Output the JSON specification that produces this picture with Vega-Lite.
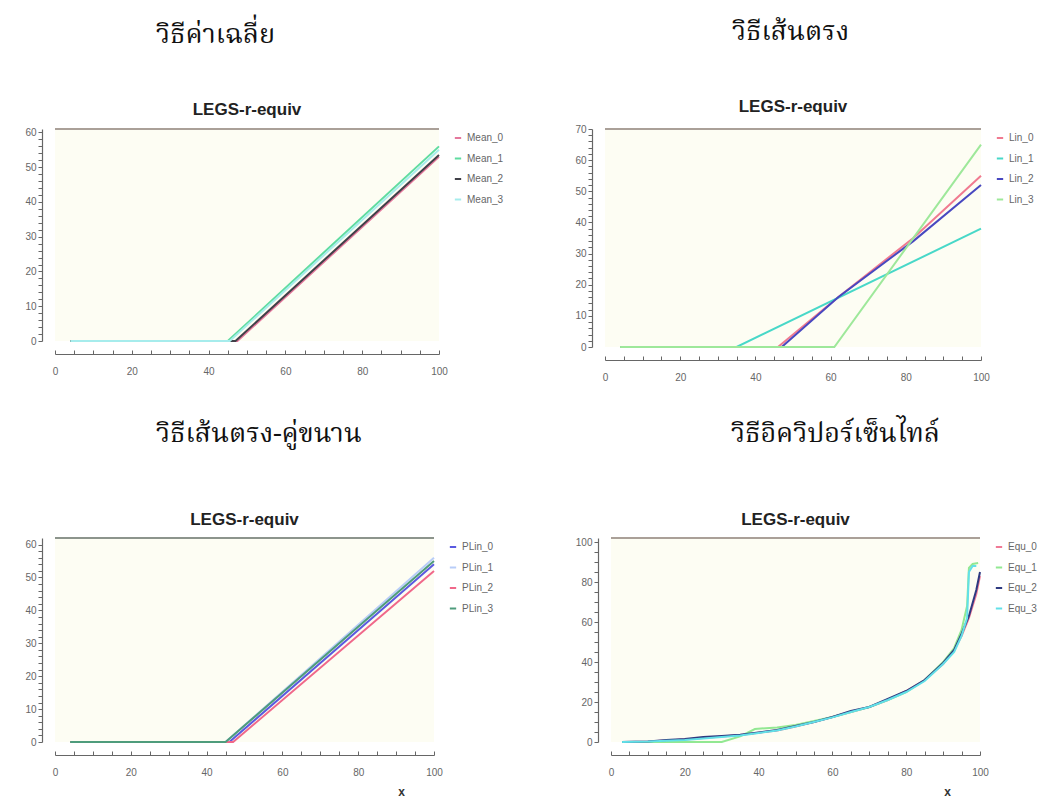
{
  "$schema": "https://vega.github.io/schema/vega-lite/v6.json",
  "background": "white",
  "padding": {"left": 24, "top": 18, "right": 5, "bottom": 0},
  "config": {
    "view": {"stroke": null, "fill": "#fdfdf3"},
    "axis": {"labelFont": "Liberation Sans Narrow, Liberation Sans, sans-serif", "labelFontSize": 10, "labelColor": "#666", "domainColor": "#666", "tickColor": "#666", "grid": false, "labelOverlap": false, "labelFlush": false, "offset": 13, "domainWidth": 1.2, "tickSize": 4},
    "legend": {"orient": "right", "offset": 6, "symbolType": "stroke", "symbolSize": 40, "symbolStrokeWidth": 2, "labelFont": "Liberation Sans Narrow, Liberation Sans, sans-serif", "labelFontSize": 10, "labelColor": "#666", "rowPadding": 10.5, "padding": 4, "title": null},
    "title": {"font": "Liberation Sans, Arial, sans-serif", "fontSize": 17, "fontWeight": "bold", "color": "#222"},
    "line": {"strokeWidth": 2}
  },
  "resolve": {"scale": {"color": "independent"}, "legend": {"color": "independent"}},
  "datasets": {
    "mean": [
      {"x": 4, "y": 0, "s": "Mean_0"}, {"x": 47.5, "y": 0, "s": "Mean_0"}, {"x": 100, "y": 53, "s": "Mean_0"},
      {"x": 4, "y": 0, "s": "Mean_1"}, {"x": 45, "y": 0, "s": "Mean_1"}, {"x": 100, "y": 56, "s": "Mean_1"},
      {"x": 4, "y": 0, "s": "Mean_2"}, {"x": 47, "y": 0, "s": "Mean_2"}, {"x": 100, "y": 53.5, "s": "Mean_2"},
      {"x": 4, "y": 0, "s": "Mean_3"}, {"x": 45.5, "y": 0, "s": "Mean_3"}, {"x": 100, "y": 55, "s": "Mean_3"}
    ],
    "lin": [
      {"x": 4, "y": 0, "s": "Lin_0"}, {"x": 46, "y": 0, "s": "Lin_0"}, {"x": 62, "y": 16, "s": "Lin_0"}, {"x": 82, "y": 35, "s": "Lin_0"}, {"x": 100, "y": 55, "s": "Lin_0"},
      {"x": 4, "y": 0, "s": "Lin_1"}, {"x": 35, "y": 0, "s": "Lin_1"}, {"x": 100, "y": 38, "s": "Lin_1"},
      {"x": 4, "y": 0, "s": "Lin_2"}, {"x": 47, "y": 0, "s": "Lin_2"}, {"x": 62, "y": 16, "s": "Lin_2"}, {"x": 82, "y": 34, "s": "Lin_2"}, {"x": 100, "y": 52, "s": "Lin_2"},
      {"x": 4, "y": 0, "s": "Lin_3"}, {"x": 61, "y": 0, "s": "Lin_3"}, {"x": 100, "y": 65, "s": "Lin_3"}
    ],
    "plin": [
      {"x": 4, "y": 0, "s": "PLin_0"}, {"x": 46, "y": 0, "s": "PLin_0"}, {"x": 100, "y": 54, "s": "PLin_0"},
      {"x": 4, "y": 0, "s": "PLin_1"}, {"x": 45, "y": 0, "s": "PLin_1"}, {"x": 100, "y": 56, "s": "PLin_1"},
      {"x": 4, "y": 0, "s": "PLin_2"}, {"x": 47, "y": 0, "s": "PLin_2"}, {"x": 100, "y": 52, "s": "PLin_2"},
      {"x": 4, "y": 0, "s": "PLin_3"}, {"x": 45, "y": 0, "s": "PLin_3"}, {"x": 86, "y": 41, "s": "PLin_3"}, {"x": 100, "y": 55, "s": "PLin_3"}
    ],
    "equ": [
      {"x": 3, "y": 0, "s": "Equ_0"}, {"x": 10, "y": 0.2, "s": "Equ_0"}, {"x": 15, "y": 0.8, "s": "Equ_0"}, {"x": 20, "y": 1.3, "s": "Equ_0"}, {"x": 25, "y": 2, "s": "Equ_0"}, {"x": 30, "y": 2.8, "s": "Equ_0"}, {"x": 35, "y": 3.5, "s": "Equ_0"}, {"x": 40, "y": 4.6, "s": "Equ_0"}, {"x": 45, "y": 5.8, "s": "Equ_0"}, {"x": 50, "y": 7.8, "s": "Equ_0"}, {"x": 55, "y": 10, "s": "Equ_0"}, {"x": 60, "y": 12.5, "s": "Equ_0"}, {"x": 65, "y": 15, "s": "Equ_0"}, {"x": 70, "y": 17.5, "s": "Equ_0"}, {"x": 75, "y": 21, "s": "Equ_0"}, {"x": 80, "y": 25.5, "s": "Equ_0"}, {"x": 85, "y": 31, "s": "Equ_0"}, {"x": 90, "y": 39, "s": "Equ_0"}, {"x": 93, "y": 46, "s": "Equ_0"}, {"x": 95, "y": 53, "s": "Equ_0"}, {"x": 97, "y": 62, "s": "Equ_0"}, {"x": 99, "y": 74, "s": "Equ_0"}, {"x": 100, "y": 83, "s": "Equ_0"},
      {"x": 3, "y": 0, "s": "Equ_1"}, {"x": 30, "y": 0, "s": "Equ_1"}, {"x": 35, "y": 2.8, "s": "Equ_1"}, {"x": 39, "y": 6.5, "s": "Equ_1"}, {"x": 45, "y": 7.3, "s": "Equ_1"}, {"x": 50, "y": 8.5, "s": "Equ_1"}, {"x": 55, "y": 10.5, "s": "Equ_1"}, {"x": 60, "y": 12.5, "s": "Equ_1"}, {"x": 65, "y": 15, "s": "Equ_1"}, {"x": 70, "y": 17.5, "s": "Equ_1"}, {"x": 75, "y": 21, "s": "Equ_1"}, {"x": 80, "y": 25, "s": "Equ_1"}, {"x": 85, "y": 31, "s": "Equ_1"}, {"x": 90, "y": 40, "s": "Equ_1"}, {"x": 93, "y": 47, "s": "Equ_1"}, {"x": 95, "y": 56, "s": "Equ_1"}, {"x": 96.5, "y": 68, "s": "Equ_1"}, {"x": 97, "y": 87, "s": "Equ_1"}, {"x": 98, "y": 89, "s": "Equ_1"}, {"x": 99.5, "y": 89.5, "s": "Equ_1"},
      {"x": 3, "y": 0, "s": "Equ_2"}, {"x": 10, "y": 0.3, "s": "Equ_2"}, {"x": 15, "y": 1, "s": "Equ_2"}, {"x": 20, "y": 1.5, "s": "Equ_2"}, {"x": 25, "y": 2.5, "s": "Equ_2"}, {"x": 30, "y": 3, "s": "Equ_2"}, {"x": 35, "y": 3.6, "s": "Equ_2"}, {"x": 40, "y": 4.8, "s": "Equ_2"}, {"x": 45, "y": 6, "s": "Equ_2"}, {"x": 50, "y": 8, "s": "Equ_2"}, {"x": 55, "y": 10, "s": "Equ_2"}, {"x": 60, "y": 12.5, "s": "Equ_2"}, {"x": 65, "y": 15.5, "s": "Equ_2"}, {"x": 70, "y": 17.5, "s": "Equ_2"}, {"x": 75, "y": 21.5, "s": "Equ_2"}, {"x": 80, "y": 25.5, "s": "Equ_2"}, {"x": 85, "y": 31, "s": "Equ_2"}, {"x": 90, "y": 39.5, "s": "Equ_2"}, {"x": 93, "y": 46, "s": "Equ_2"}, {"x": 95, "y": 54, "s": "Equ_2"}, {"x": 97, "y": 63, "s": "Equ_2"}, {"x": 99, "y": 76, "s": "Equ_2"}, {"x": 100, "y": 85, "s": "Equ_2"},
      {"x": 3, "y": 0, "s": "Equ_3"}, {"x": 10, "y": 0.2, "s": "Equ_3"}, {"x": 15, "y": 0.6, "s": "Equ_3"}, {"x": 20, "y": 1, "s": "Equ_3"}, {"x": 25, "y": 1.8, "s": "Equ_3"}, {"x": 30, "y": 2.5, "s": "Equ_3"}, {"x": 35, "y": 3.3, "s": "Equ_3"}, {"x": 40, "y": 4.5, "s": "Equ_3"}, {"x": 45, "y": 5.8, "s": "Equ_3"}, {"x": 50, "y": 7.8, "s": "Equ_3"}, {"x": 55, "y": 10, "s": "Equ_3"}, {"x": 60, "y": 12.3, "s": "Equ_3"}, {"x": 65, "y": 15, "s": "Equ_3"}, {"x": 70, "y": 17.5, "s": "Equ_3"}, {"x": 75, "y": 21, "s": "Equ_3"}, {"x": 80, "y": 25, "s": "Equ_3"}, {"x": 85, "y": 30.5, "s": "Equ_3"}, {"x": 90, "y": 39, "s": "Equ_3"}, {"x": 93, "y": 45, "s": "Equ_3"}, {"x": 95, "y": 53, "s": "Equ_3"}, {"x": 96.5, "y": 62, "s": "Equ_3"}, {"x": 97, "y": 85, "s": "Equ_3"}, {"x": 98, "y": 88, "s": "Equ_3"}, {"x": 99, "y": 88, "s": "Equ_3"}
    ]
  },
  "spacing": 38,
  "vconcat": [
    {
      "spacing": 66,
      "resolve": {"scale": {"color": "independent"}, "legend": {"color": "independent"}},
      "hconcat": [
        {
          "title": {"text": "วิธีค่าเฉลี่ย", "anchor": "start", "frame": "group", "dx": 101, "offset": 52, "font": "Noto Serif Thai, Norasi, Kinnari, Noto Sans Thai Looped, Garuda, serif", "fontSize": 27, "fontWeight": "normal", "color": "#111"},
          "resolve": {"scale": {"color": "independent"}, "legend": {"color": "independent"}},
          "vconcat": [
            {
              "title": {"text": "LEGS-r-equiv", "offset": 8},
              "width": 384, "height": 212,
              "data": {"name": "mean"},
              "layer": [
                {
                  "mark": {"type": "line", "strokeWidth": 2},
                  "encoding": {
                    "x": {"field": "x", "type": "quantitative", "scale": {"domain": [0, 100], "nice": false},
                      "axis": {"title": null, "values": [0,5,10,15,20,25,30,35,40,45,50,55,60,65,70,75,80,85,90,95,100], "labelExpr": "datum.value % 20 === 0 ? datum.label : ''", "tickSize": -4, "labelPadding": 16}},
                    "y": {"field": "y", "type": "quantitative", "scale": {"domain": [0, 61], "nice": false},
                      "axis": {"title": null, "values": [0,2,4,6,8,10,12,14,16,18,20,22,24,26,28,30,32,34,36,38,40,42,44,46,48,50,52,54,56,58,60], "labelExpr": "datum.value % 10 === 0 ? datum.label : ''"}},
                    "color": {"field": "s", "type": "nominal", "scale": {"domain": ["Mean_0", "Mean_1", "Mean_2", "Mean_3"], "range": ["#e4789c", "#5fdca0", "#404048", "#a6ecec"]}}
                  }
                },
                {
                  "mark": {"type": "rule", "color": "#aaa098", "strokeWidth": 2},
                  "encoding": {"y": {"datum": 61, "type": "quantitative", "scale": {"domain": [0, 61], "nice": false},
                      "axis": {"title": null, "values": [0,2,4,6,8,10,12,14,16,18,20,22,24,26,28,30,32,34,36,38,40,42,44,46,48,50,52,54,56,58,60], "labelExpr": "datum.value % 10 === 0 ? datum.label : ''"}}}
                }
              ]
            }
          ]
        },
        {
          "title": {"text": "วิธีเส้นตรง", "anchor": "start", "frame": "group", "dx": 127, "offset": 52, "font": "Noto Serif Thai, Norasi, Kinnari, Noto Sans Thai Looped, Garuda, serif", "fontSize": 27, "fontWeight": "normal", "color": "#111"},
          "resolve": {"scale": {"color": "independent"}, "legend": {"color": "independent"}},
          "vconcat": [
            {
              "title": {"text": "LEGS-r-equiv", "offset": 8},
              "width": 376, "height": 218,
              "data": {"name": "lin"},
              "layer": [
                {
                  "mark": {"type": "line", "strokeWidth": 2},
                  "encoding": {
                    "x": {"field": "x", "type": "quantitative", "scale": {"domain": [0, 100], "nice": false},
                      "axis": {"title": null, "values": [0,5,10,15,20,25,30,35,40,45,50,55,60,65,70,75,80,85,90,95,100], "labelExpr": "datum.value % 20 === 0 ? datum.label : ''", "tickSize": -4, "labelPadding": 16}},
                    "y": {"field": "y", "type": "quantitative", "scale": {"domain": [0, 70], "nice": false},
                      "axis": {"title": null, "values": [0,2,4,6,8,10,12,14,16,18,20,22,24,26,28,30,32,34,36,38,40,42,44,46,48,50,52,54,56,58,60,62,64,66,68,70], "labelExpr": "datum.value % 10 === 0 ? datum.label : ''"}},
                    "color": {"field": "s", "type": "nominal", "scale": {"domain": ["Lin_0", "Lin_1", "Lin_2", "Lin_3"], "range": ["#f07a90", "#48d8c8", "#4848c0", "#9ee89a"]}}
                  }
                },
                {
                  "mark": {"type": "rule", "color": "#aaa098", "strokeWidth": 2},
                  "encoding": {"y": {"datum": 70, "type": "quantitative", "scale": {"domain": [0, 70], "nice": false},
                      "axis": {"title": null, "values": [0,2,4,6,8,10,12,14,16,18,20,22,24,26,28,30,32,34,36,38,40,42,44,46,48,50,52,54,56,58,60,62,64,66,68,70], "labelExpr": "datum.value % 10 === 0 ? datum.label : ''"}}}
                }
              ]
            }
          ]
        }
      ]
    },
    {
      "spacing": 77,
      "resolve": {"scale": {"color": "independent"}, "legend": {"color": "independent"}},
      "hconcat": [
        {
          "title": {"text": "วิธีเส้นตรง-คู่ขนาน", "anchor": "start", "frame": "group", "dx": 101, "offset": 63, "font": "Noto Serif Thai, Norasi, Kinnari, Noto Sans Thai Looped, Garuda, serif", "fontSize": 27, "fontWeight": "normal", "color": "#111"},
          "resolve": {"scale": {"color": "independent"}, "legend": {"color": "independent"}},
          "vconcat": [
            {
              "title": {"text": "LEGS-r-equiv", "offset": 8},
              "width": 379, "height": 204,
              "data": {"name": "plin"},
              "layer": [
                {
                  "mark": {"type": "line", "strokeWidth": 2},
                  "encoding": {
                    "x": {"field": "x", "type": "quantitative", "scale": {"domain": [0, 100], "nice": false},
                      "axis": {"title": "x", "titleX": 346, "titleY": 36, "titleAlign": "center", "titleBaseline": "middle", "titleFont": "Liberation Sans, sans-serif", "titleFontSize": 12, "titleFontWeight": "bold", "titleColor": "#333", "values": [0,5,10,15,20,25,30,35,40,45,50,55,60,65,70,75,80,85,90,95,100], "labelExpr": "datum.value % 20 === 0 ? datum.label : ''", "tickSize": -4, "labelPadding": 16}},
                    "y": {"field": "y", "type": "quantitative", "scale": {"domain": [0, 62], "nice": false},
                      "axis": {"title": null, "values": [0,2,4,6,8,10,12,14,16,18,20,22,24,26,28,30,32,34,36,38,40,42,44,46,48,50,52,54,56,58,60], "labelExpr": "datum.value % 10 === 0 ? datum.label : ''"}},
                    "color": {"field": "s", "type": "nominal", "scale": {"domain": ["PLin_0", "PLin_1", "PLin_2", "PLin_3"], "range": ["#5a5ae0", "#b8cdf8", "#f0688a", "#4e9c7c"]}}
                  }
                },
                {
                  "mark": {"type": "rule", "color": "#8c948c", "strokeWidth": 1.5},
                  "encoding": {"y": {"datum": 62, "type": "quantitative", "scale": {"domain": [0, 62], "nice": false},
                      "axis": {"title": null, "values": [0,2,4,6,8,10,12,14,16,18,20,22,24,26,28,30,32,34,36,38,40,42,44,46,48,50,52,54,56,58,60], "labelExpr": "datum.value % 10 === 0 ? datum.label : ''"}}}
                }
              ]
            }
          ]
        },
        {
          "title": {"text": "วิธีอิควิปอร์เซ็นไทล์", "anchor": "start", "frame": "group", "dx": 120, "offset": 63, "font": "Noto Serif Thai, Norasi, Kinnari, Noto Sans Thai Looped, Garuda, serif", "fontSize": 27, "fontWeight": "normal", "color": "#111"},
          "resolve": {"scale": {"color": "independent"}, "legend": {"color": "independent"}},
          "vconcat": [
            {
              "title": {"text": "LEGS-r-equiv", "offset": 8},
              "width": 369, "height": 204,
              "data": {"name": "equ"},
              "layer": [
                {
                  "mark": {"type": "line", "strokeWidth": 2},
                  "encoding": {
                    "x": {"field": "x", "type": "quantitative", "scale": {"domain": [0, 100], "nice": false},
                      "axis": {"title": "x", "titleX": 336, "titleY": 36, "titleAlign": "center", "titleBaseline": "middle", "titleFont": "Liberation Sans, sans-serif", "titleFontSize": 12, "titleFontWeight": "bold", "titleColor": "#333", "values": [0,5,10,15,20,25,30,35,40,45,50,55,60,65,70,75,80,85,90,95,100], "labelExpr": "datum.value % 20 === 0 ? datum.label : ''", "tickSize": -4, "labelPadding": 16}},
                    "y": {"field": "y", "type": "quantitative", "scale": {"domain": [0, 102], "nice": false},
                      "axis": {"title": null, "values": [0,5,10,15,20,25,30,35,40,45,50,55,60,65,70,75,80,85,90,95,100], "labelExpr": "datum.value % 20 === 0 ? datum.label : ''"}},
                    "color": {"field": "s", "type": "nominal", "scale": {"domain": ["Equ_0", "Equ_1", "Equ_2", "Equ_3"], "range": ["#f07a96", "#92e892", "#2e3a80", "#62e0e8"]}}
                  }
                },
                {
                  "mark": {"type": "rule", "color": "#aaa098", "strokeWidth": 2},
                  "encoding": {"y": {"datum": 102, "type": "quantitative", "scale": {"domain": [0, 102], "nice": false},
                      "axis": {"title": null, "values": [0,5,10,15,20,25,30,35,40,45,50,55,60,65,70,75,80,85,90,95,100], "labelExpr": "datum.value % 20 === 0 ? datum.label : ''"}}}
                }
              ]
            }
          ]
        }
      ]
    }
  ]
}
